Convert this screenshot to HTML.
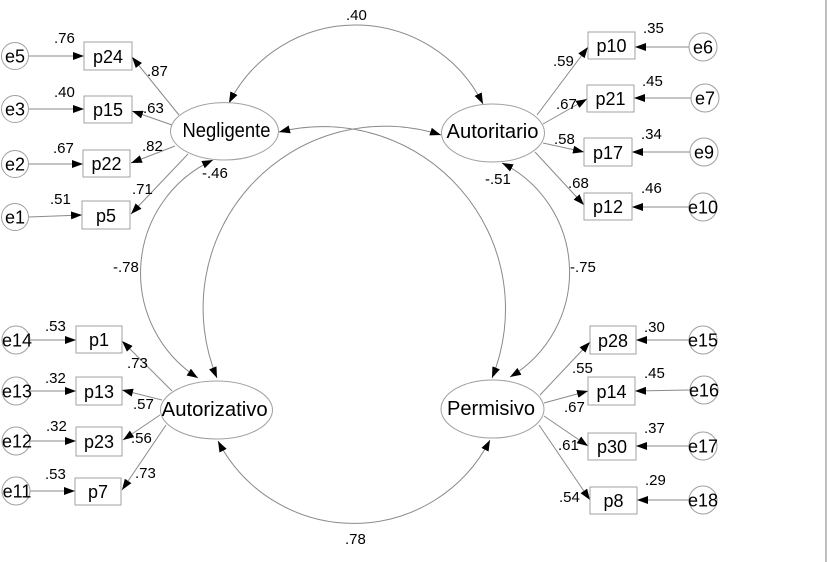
<!DOCTYPE html>
<html><head><meta charset="utf-8"><style>
html,body{margin:0;padding:0;background:#fff;}
svg{display:block;}
text{font-family:"Liberation Sans",Arial,sans-serif;fill:#000;}
.l{stroke:#8a8a8a;stroke-width:1;fill:none;}
.b{stroke:#a0a0a0;stroke-width:1;fill:#fff;}
.s{font-size:15px;}
.m{font-size:18px;text-anchor:middle;}
.n{font-size:20px;text-anchor:middle;}
</style></head><body>
<svg width="827" height="562" viewBox="0 0 827 562" xmlns="http://www.w3.org/2000/svg">
<defs>
<marker id="a" markerUnits="userSpaceOnUse" markerWidth="11" markerHeight="8" refX="11" refY="4" orient="auto-start-reverse">
<path d="M0,0 L11,4 L0,8 z" fill="#000"/>
</marker>
</defs>
<line x1="826" y1="0" x2="826" y2="562" stroke="#aaa" stroke-width="1.5"/>

<!-- covariance curves -->
<path class="l" d="M229 103 A142 142 0 0 1 483 104" marker-start="url(#a)" marker-end="url(#a)"/>
<path class="l" d="M279 132 A182.5 182.5 0 0 1 492 378" marker-start="url(#a)" marker-end="url(#a)"/>
<path class="l" d="M441 135 A182 182 0 0 0 217 378" marker-start="url(#a)" marker-end="url(#a)"/>
<path class="l" d="M213 160 A124.5 124.5 0 0 0 198 378" marker-start="url(#a)" marker-end="url(#a)"/>
<path class="l" d="M502 163 A122 122 0 0 1 510 377" marker-start="url(#a)" marker-end="url(#a)"/>
<path class="l" d="M218 441 A153 153 0 0 0 490 440" marker-start="url(#a)" marker-end="url(#a)"/>
<text class="s" x="346" y="20">.40</text>
<text class="s" x="113" y="272">-.78</text>
<text class="s" x="570" y="272">-.75</text>
<text class="s" x="345" y="544">.78</text>
<text class="s" x="202" y="178">-.46</text>
<text class="s" x="485" y="184">-.51</text>

<!-- Negligente group -->
<line class="l" x1="29" y1="56" x2="84" y2="56" marker-end="url(#a)"/>
<line class="l" x1="29" y1="109" x2="84" y2="109" marker-end="url(#a)"/>
<line class="l" x1="29" y1="164" x2="83" y2="164" marker-end="url(#a)"/>
<line class="l" x1="29" y1="217" x2="82" y2="215" marker-end="url(#a)"/>
<line class="l" x1="179" y1="115" x2="132" y2="57" marker-end="url(#a)"/>
<line class="l" x1="172" y1="125" x2="132" y2="111" marker-end="url(#a)"/>
<line class="l" x1="175" y1="146" x2="131" y2="163" marker-end="url(#a)"/>
<line class="l" x1="188" y1="154" x2="131" y2="214" marker-end="url(#a)"/>
<rect class="b" x="84" y="42" width="48" height="28"/><text class="m" x="108" y="63">p24</text>
<rect class="b" x="84" y="96" width="48" height="27"/><text class="m" x="108" y="116">p15</text>
<rect class="b" x="83" y="150" width="47" height="27"/><text class="m" x="106.5" y="170">p22</text>
<rect class="b" x="82" y="201" width="48" height="28"/><text class="m" x="106" y="222">p5</text>
<circle class="b" cx="15" cy="56" r="13.5"/><text class="m" x="15" y="62.5">e5</text>
<circle class="b" cx="15" cy="109" r="13.5"/><text class="m" x="15" y="115.5">e3</text>
<circle class="b" cx="15" cy="164" r="13.5"/><text class="m" x="15" y="170.5">e2</text>
<circle class="b" cx="15" cy="217" r="13.5"/><text class="m" x="15" y="223.5">e1</text>
<text class="s" x="54" y="43">.76</text>
<text class="s" x="54" y="97">.40</text>
<text class="s" x="53" y="153">.67</text>
<text class="s" x="50" y="204">.51</text>
<text class="s" x="147" y="76">.87</text>
<text class="s" x="143" y="113">.63</text>
<text class="s" x="142" y="151">.82</text>
<text class="s" x="132" y="194">.71</text>
<ellipse class="b" cx="224.5" cy="131.3" rx="54" ry="28.7"/>
<text class="n" x="226.5" y="137" textLength="88" lengthAdjust="spacingAndGlyphs">Negligente</text>

<!-- Autoritario group -->
<line class="l" x1="689" y1="47" x2="635" y2="47" marker-end="url(#a)"/>
<line class="l" x1="691" y1="98" x2="634" y2="98" marker-end="url(#a)"/>
<line class="l" x1="690" y1="152" x2="632" y2="152" marker-end="url(#a)"/>
<line class="l" x1="689" y1="207" x2="632" y2="207" marker-end="url(#a)"/>
<line class="l" x1="537" y1="115" x2="588" y2="47" marker-end="url(#a)"/>
<line class="l" x1="543" y1="124" x2="587" y2="99" marker-end="url(#a)"/>
<line class="l" x1="543" y1="143" x2="584" y2="152" marker-end="url(#a)"/>
<line class="l" x1="535" y1="152" x2="584" y2="205" marker-end="url(#a)"/>
<rect class="b" x="588" y="32" width="47" height="27"/><text class="m" x="611.5" y="52">p10</text>
<rect class="b" x="587" y="85" width="47" height="27"/><text class="m" x="610.5" y="105">p21</text>
<rect class="b" x="584" y="138" width="48" height="28"/><text class="m" x="608" y="159">p17</text>
<rect class="b" x="584" y="193" width="48" height="27"/><text class="m" x="608" y="213">p12</text>
<circle class="b" cx="703" cy="47" r="14"/><text class="m" x="703" y="53.5">e6</text>
<circle class="b" cx="705" cy="98" r="14"/><text class="m" x="705" y="104.5">e7</text>
<circle class="b" cx="704" cy="152" r="14"/><text class="m" x="704" y="158.5">e9</text>
<circle class="b" cx="703" cy="207" r="14"/><text class="m" x="703" y="213.5">e10</text>
<text class="s" x="643" y="33">.35</text>
<text class="s" x="642" y="86">.45</text>
<text class="s" x="641" y="139">.34</text>
<text class="s" x="641" y="193">.46</text>
<text class="s" x="553" y="66">.59</text>
<text class="s" x="556" y="109">.67</text>
<text class="s" x="554" y="144">.58</text>
<text class="s" x="568" y="188">.68</text>
<ellipse class="b" cx="493" cy="133" rx="51.5" ry="29"/>
<text class="n" x="492.5" y="138" textLength="92" lengthAdjust="spacingAndGlyphs">Autoritario</text>

<!-- Autorizativo group -->
<line class="l" x1="30" y1="340" x2="76" y2="340" marker-end="url(#a)"/>
<line class="l" x1="30" y1="391" x2="76" y2="391" marker-end="url(#a)"/>
<line class="l" x1="30" y1="441" x2="76" y2="441" marker-end="url(#a)"/>
<line class="l" x1="30" y1="491" x2="75" y2="491" marker-end="url(#a)"/>
<line class="l" x1="172" y1="391" x2="122" y2="341" marker-end="url(#a)"/>
<line class="l" x1="162" y1="400" x2="122" y2="390" marker-end="url(#a)"/>
<line class="l" x1="160" y1="415" x2="123" y2="440" marker-end="url(#a)"/>
<line class="l" x1="166" y1="425" x2="122" y2="490" marker-end="url(#a)"/>
<rect class="b" x="76" y="326" width="46" height="27"/><text class="m" x="99" y="346">p1</text>
<rect class="b" x="76" y="377" width="46" height="28"/><text class="m" x="99" y="398">p13</text>
<rect class="b" x="76" y="427" width="46" height="29"/><text class="m" x="99" y="448">p23</text>
<rect class="b" x="75" y="478" width="46" height="27"/><text class="m" x="98" y="498">p7</text>
<circle class="b" cx="16" cy="340" r="14"/><text class="m" x="17" y="346.5">e14</text>
<circle class="b" cx="16" cy="391" r="14"/><text class="m" x="17" y="397.5">e13</text>
<circle class="b" cx="16" cy="441" r="14"/><text class="m" x="17" y="447.5">e12</text>
<circle class="b" cx="16" cy="491" r="14"/><text class="m" x="17" y="497.5">e11</text>
<text class="s" x="45" y="331">.53</text>
<text class="s" x="45" y="383">.32</text>
<text class="s" x="46" y="431">.32</text>
<text class="s" x="45" y="479">.53</text>
<text class="s" x="127" y="368">.73</text>
<text class="s" x="133" y="409">.57</text>
<text class="s" x="131" y="443">.56</text>
<text class="s" x="135" y="478">.73</text>
<ellipse class="b" cx="216.5" cy="410" rx="56" ry="29"/>
<text class="n" x="214.7" y="416" textLength="106" lengthAdjust="spacingAndGlyphs">Autorizativo</text>

<!-- Permisivo group -->
<line class="l" x1="689" y1="340" x2="636" y2="340" marker-end="url(#a)"/>
<line class="l" x1="690" y1="390" x2="635" y2="391" marker-end="url(#a)"/>
<line class="l" x1="689" y1="446" x2="636" y2="446" marker-end="url(#a)"/>
<line class="l" x1="689" y1="500" x2="637" y2="500" marker-end="url(#a)"/>
<line class="l" x1="540" y1="395" x2="590" y2="342" marker-end="url(#a)"/>
<line class="l" x1="544" y1="403" x2="588" y2="391" marker-end="url(#a)"/>
<line class="l" x1="544" y1="416" x2="588" y2="446" marker-end="url(#a)"/>
<line class="l" x1="539" y1="425" x2="590" y2="500" marker-end="url(#a)"/>
<rect class="b" x="590" y="326" width="46" height="28"/><text class="m" x="613" y="347">p28</text>
<rect class="b" x="588" y="377" width="47" height="28"/><text class="m" x="611.5" y="398">p14</text>
<rect class="b" x="588" y="433" width="48" height="27"/><text class="m" x="612" y="453">p30</text>
<rect class="b" x="590" y="487" width="47" height="27"/><text class="m" x="613.5" y="507">p8</text>
<circle class="b" cx="703" cy="340" r="14"/><text class="m" x="703" y="346.5">e15</text>
<circle class="b" cx="704" cy="390" r="14"/><text class="m" x="704" y="396.5">e16</text>
<circle class="b" cx="703" cy="446" r="14"/><text class="m" x="703" y="452.5">e17</text>
<circle class="b" cx="703" cy="500" r="14"/><text class="m" x="703" y="506.5">e18</text>
<text class="s" x="644" y="332">.30</text>
<text class="s" x="644" y="378">.45</text>
<text class="s" x="644" y="433">.37</text>
<text class="s" x="645" y="485">.29</text>
<text class="s" x="572" y="373">.55</text>
<text class="s" x="564" y="412">.67</text>
<text class="s" x="558" y="450">.61</text>
<text class="s" x="559" y="502">.54</text>
<ellipse class="b" cx="492.5" cy="409" rx="51.5" ry="29"/>
<text class="n" x="491" y="415" textLength="88" lengthAdjust="spacingAndGlyphs">Permisivo</text>
</svg>
</body></html>
